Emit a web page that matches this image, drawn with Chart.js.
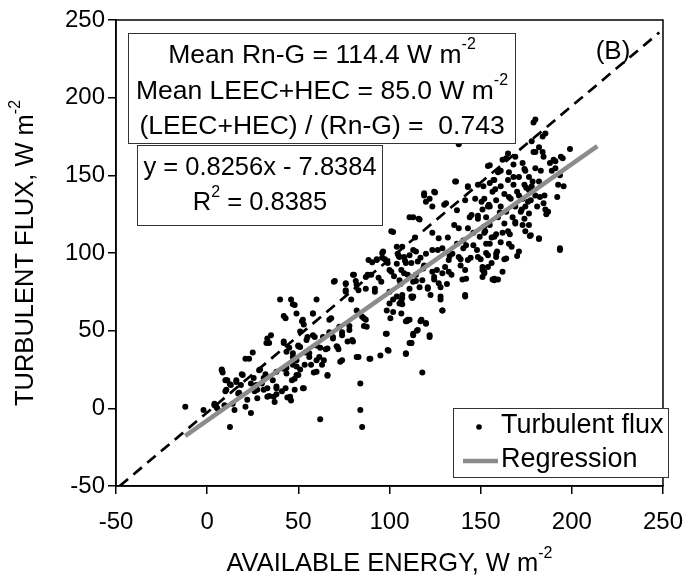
<!DOCTYPE html>
<html lang="en">
<head>
  <meta charset="UTF-8">
  <title>Turbulent flux vs available energy (B)</title>
  <script src="https://cdn.jsdelivr.net/npm/chart.js"></script>
  <style>
    html, body { margin: 0; padding: 0; background: #fff; }
    #wrap { width: 697px; height: 586px; }
  </style>
</head>
<body>
  <div id="wrap"><canvas id="fluxChart" width="697" height="586"></canvas></div>

  <script>
    // available energy (x) and turbulent flux (y), W m-2
    const fluxX = [
      -12,-2,4,5,8,8.5,10,10,11,12.5,13,15,16,17.5,19,21,21,23,24,25,26,27,29,30,31,32,33,34,34,35,36,37,38,38,40,41,42,43,43.5,44,
      45,46,46,47,47,48,48,49,50,51,52,53,53,54,55,56,57,58,58.5,59,60,60,62,62,63,64,65,66,67,68,69,70,71,72,73,74,76,76,77,78,
      79,80,80,81.5,82,83,84,84,85,86,86,87,88,89,90,90.5,92,93,94,95,96,96,97.5,98,98.5,99.5,100,100.5,101,102,102.5,104,104,105,
      106,107,107,108.5,109,109.5,110,111,112,112.5,113,114,114.5,115,116,117,117.5,118,118.5,119,120,121,122,122,123.5,124.5,125,126,
      126.5,128,129,130,130.5,131.5,132,133,134,135.5,136.5,137,138,139,140,141.5,142,143,144,144.5,146,147,148,148.5,150,151,151.5,
      152.5,154,154.5,156,156.5,158,159,159.5,160.5,161,162,163,164,165.5,166,167,168,169,170,171,172.5,173,174,175,176,177,178,178.5,
      179,180,181,182,183,184,185,186,188,189,191,192,193.5,195,195.5,199,
      180,185.5,182,184,184.5,179,194,190,191,193.5,165,169,168,173,162,159.5,165.5,174.5,180,176.5,171,165,157.5,155,161,168,174,178,
      182,192.5,156.5,163,170,176.5,180,152,158.5,166.5,173,177.5,182.5,155,161,169,174.5,184.5,151,164,172,176.5,185.5,153,159.5,167.5,
      174,187,155,163,169,176.5,152,158.5,165,174.5,177.5,182,155,161,165.5,171,193.5,153,158.5,164,154,152,157.5,162,
      155,136,143,148.5,157,119,124.5,120,123.5,131,141.5,150.5,154,137,145,148.5,113,116.5,138,143,152,149.5,157.5,127,140.5,146,153,
      107,105.5,111,114.5,120,123.5,129,134.5,140.5,148.5,154,158.5,109,115.5,119,132.5,138,143,151,156,108,114.5,123.5,129,132.5,139,
      141.5,152,157.5,105.5,113,118,124.5,127,142,151,111,116.5,121,128,107,113,122.5,141.5,105.5,128,111,109,117,129,120,115.5,113,122,
      112,109,
      102,69.5,76,80.5,82,76,87,88.5,93,96.5,99,101,104.5,108,106.5,112,95.5,92,83,100,104,106.5,112,100,102,106.5,110,87,87.5,85,72.5,
      78,67,58,52.5,51,58,63.5,69,74,79.5,71.5,66,60,54.5,51,56,61.5,49,53.5,60,66,74,82,89.5,99,98.5,111,113,52.5,49,49,
      48,42,32.5,42,50,43.5,47,8,10.5,12.5,16,19.5,28.5,25.5,24,31,18.5,10.5,17,27.5,33,38,43,36.5,33,27.5,22,14,46.5,38,42,47,43.5,50,
      48,45.5,4,5.5,9.5
    ];
    const fluxY = [
      1,-1,3,1,25,23,18,11,18,-12,15,-1,18,10,22,1,32,32,-3,36,11,15,25,16,12,22,45,42,8,47,18,4,13,9,70,11,42,58,26,7,
      39,5,70,33,67,32,19,61,40,25,56,13,54,36,46,33,28,61,23,46,31,70,-7,39,28,31,38,21,49,58,46,82,40,38,30,49,75,80,43,53,
      70,43,86,82,63,33,-1,16,-12,58,53,77,86,32,86,94,75,96,84,34,100,97,96,48,63,37,89,58,114,70,85,93,104,98,
      80,71,67,95,35,56,86,123,42,71,102,110,82,50,122,97,57,23,90,137,55,77,46,135,113,83,139,89,
      102,72,63,131,91,80,110,98,86,118,146,106,170,96,83,72,105,143,123,97,113,135,102,124,96,89,143,
      114,156,131,110,83,141,101,83,126,153,113,96,161,136,112,104,149,120,98,137,128,118,154,142,133,111,172,146,
      184,165,130,109,153,175,137,125,158,153,159,136,102,161,143,167,
      186,177,168,165,162,165,162,160,154.5,150,164,162,157,158,160,152,152,153,154.5,149,149,147,147,145,143,144,144,143,
      146,144,139.5,138,139.5,140.5,137,135,134,135,135,134,136,130,130,130,130,132,128,126.5,126.5,125.5,128,123,123,123,
      122,126.5,118,119,119,118,113,112,114,114,111.5,109.5,106,107,106,101,103,100,97.5,96.5,91,87,82.5,88,
      156.5,146,142.5,144,147,138.5,139.5,133,130,132,134,133,130,127.5,124.5,122,123,121.5,116,116,117,110.5,110.5,109.5,108,105,106,
      104,97.5,98.5,101,99.5,102,103,99.5,103,97.5,98.5,99.5,93.5,94.5,92,95.5,97.5,95.5,91,93.5,87,86,88,87,88,92,
      89,88,83.5,82.5,81.5,82.5,84.5,80.5,83.5,84.5,77,78,78,78,73,72,73,73,67.5,70,57,56,56,63,54.5,50.5,48,47,
      42,35.5,
      113.5,81.5,80.5,86,79.5,76,84.5,95.5,95.5,101,93.5,88,99.5,97.5,89,93.5,81.5,77,76,75,72,69.5,72,67.5,62,61,57,57,52.5,59,52.5,
      50.5,57,61,57,49.5,47,46,45,47,44,39.5,38.5,40.5,44,39.5,35.5,33,31,28,23.5,21.5,31,33,32,37.5,48,42,47,13,21.5,27,
      66.5,59.5,42,43,40.5,36.5,35.5,24.5,18,15.5,17,21.5,24.5,19.5,16,19.5,15,12,9.5,12,13,14,13,7.5,7.5,6.5,5.5,3,18,23.5,25.5,28,22.5,21.5,
      12,7.5,2,0,2
    ];

    // regression line end points and the 1:1 reference line
    const regX = [-12, 214];
    const regY = [-17.7, 168.8];
    const oneX = [-48, 248];
    const oneY = [-50, 242];

    const xTicks = [-50, 0, 50, 100, 150, 200, 250];
    const yTicks = [-50, 0, 50, 100, 150, 200, 250];

    const FONT = 'Arial, "Liberation Sans", sans-serif';

    // draws a line of text with optional superscript parts, centred on cx
    function drawRich(ctx, parts, cx, cy, size, align) {
      const sup = Math.round(size * 0.62);
      let w = 0;
      parts.forEach(p => {
        ctx.font = (p[1] ? sup : size) + 'px ' + FONT;
        w += ctx.measureText(p[0]).width;
      });
      let x = align === 'left' ? cx : cx - w / 2;
      ctx.textAlign = 'left';
      ctx.textBaseline = 'middle';
      parts.forEach(p => {
        ctx.font = (p[1] ? sup : size) + 'px ' + FONT;
        ctx.fillText(p[0], x, p[1] ? cy - size * 0.42 : cy);
        x += ctx.measureText(p[0]).width;
      });
    }

    const annotations = {
      id: 'annotations',
      afterDatasetsDraw(chart) {
        const ctx = chart.ctx;
        const a = chart.chartArea;
        ctx.save();

        // frame around the plot
        ctx.strokeStyle = '#000';
        ctx.lineWidth = 1.5;
        ctx.strokeRect(a.left, a.top, a.right - a.left, a.bottom - a.top);

        ctx.fillStyle = '#000';
        ctx.lineWidth = 1;
        ctx.strokeStyle = '#333';

        // statistics box
        ctx.fillStyle = '#fff';
        ctx.fillRect(128.5, 33.5, 387, 110);
        ctx.strokeRect(128.5, 33.5, 387, 110);
        ctx.fillStyle = '#000';
        drawRich(ctx, [['Mean Rn-G = 114.4 W m'], ['-2', true]], 322, 56, 26.5);
        drawRich(ctx, [['Mean LEEC+HEC = 85.0 W m'], ['-2', true]], 322, 92, 26.5);
        drawRich(ctx, [['(LEEC+HEC) / (Rn-G) =  0.743']], 322, 127, 26.5);

        // regression box
        ctx.fillStyle = '#fff';
        ctx.fillRect(137.5, 145.5, 245, 80);
        ctx.strokeRect(137.5, 145.5, 245, 80);
        ctx.fillStyle = '#000';
        drawRich(ctx, [['y = 0.8256x - 7.8384']], 260, 168, 25.5);
        drawRich(ctx, [['R'], ['2', true], [' = 0.8385']], 260, 203, 25.5);

        drawRich(ctx, [['(B)']], 613, 52, 26);

        // legend
        ctx.fillStyle = '#fff';
        ctx.fillRect(453.5, 408.5, 215, 69);
        ctx.strokeRect(453.5, 408.5, 215, 69);
        const ds = chart.data.datasets;
        ctx.fillStyle = ds[2].backgroundColor;
        ctx.beginPath();
        ctx.arc(479, 427, 2.8, 0, Math.PI * 2);
        ctx.fill();
        ctx.strokeStyle = ds[0].borderColor;
        ctx.lineWidth = ds[0].borderWidth;
        ctx.beginPath();
        ctx.moveTo(463, 461);
        ctx.lineTo(498, 461);
        ctx.stroke();
        ctx.fillStyle = '#000';
        drawRich(ctx, [[ds[2].label]], 501, 426, 27, 'left');
        drawRich(ctx, [[ds[0].label]], 501, 460, 27, 'left');

        // axis titles
        drawRich(ctx, [['AVAILABLE ENERGY, W m'], ['-2', true]], (a.left + a.right) / 2, 564, 25.5);
        ctx.save();
        ctx.translate(26, (a.top + a.bottom) / 2);
        ctx.rotate(-Math.PI / 2);
        drawRich(ctx, [['TURBULENT FLUX, W m'], ['-2', true]], 0, 0, 25.5);
        ctx.restore();

        ctx.restore();
      }
    };

    const toPts = (xs, ys) => xs.map((x, i) => ({ x: x, y: ys[i] }));

    const axisStyle = {
      grid: { display: true, drawOnChartArea: false, drawTicks: true, tickLength: 8, color: '#000', lineWidth: 1.5 },
      border: { display: true, color: '#000', width: 1.5 }
    };

    new Chart(document.getElementById('fluxChart'), {
      type: 'scatter',
      data: {
        datasets: [
          {
            label: 'Regression',
            data: toPts(regX, regY),
            showLine: true,
            borderColor: '#8c8c8c',
            borderWidth: 4.5,
            pointRadius: 0,
            order: 1
          },
          {
            label: '1:1',
            data: toPts(oneX, oneY),
            showLine: true,
            borderColor: '#000',
            borderWidth: 2.7,
            borderDash: [11, 7],
            pointRadius: 0,
            order: 2
          },
          {
            label: 'Turbulent flux',
            data: toPts(fluxX, fluxY),
            backgroundColor: '#000',
            borderWidth: 0,
            pointRadius: 3,
            order: 3
          }
        ]
      },
      options: {
        responsive: false,
        animation: false,
        layout: { padding: { top: 20, right: 24, left: 0, bottom: 0 } },
        plugins: {
          legend: { display: false },
          tooltip: { enabled: false }
        },
        scales: {
          x: {
            type: 'linear',
            min: -50,
            max: 250,
            afterBuildTicks: s => { s.ticks = xTicks.map(v => ({ value: v })); },
            afterFit: s => { s.height = 100; },
            ticks: { color: '#000', font: { family: FONT, size: 24 }, padding: 14, maxRotation: 0 },
            title: { display: false },
            ...axisStyle
          },
          y: {
            type: 'linear',
            min: -50,
            max: 250,
            afterBuildTicks: s => { s.ticks = yTicks.map(v => ({ value: v })); },
            afterFit: s => { s.width = 116; },
            ticks: { color: '#000', font: { family: FONT, size: 24 }, padding: 3 },
            title: { display: false },
            ...axisStyle
          }
        }
      },
      plugins: [annotations]
    });
  </script>
</body>
</html>
